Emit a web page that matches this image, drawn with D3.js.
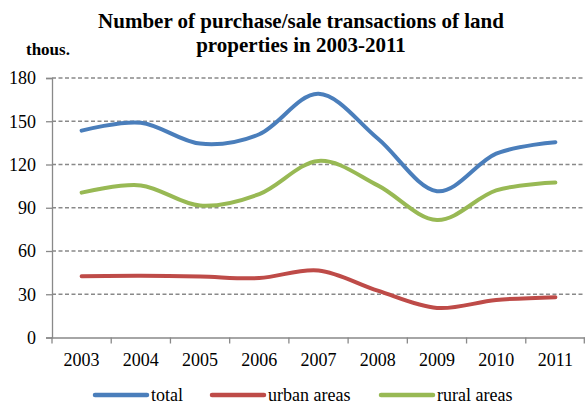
<!DOCTYPE html>
<html><head><meta charset="utf-8">
<script src="https://cdn.jsdelivr.net/npm/d3@7"></script>
<style>body{margin:0;background:#fff}svg{display:block}</style>
</head><body>
<svg id="c" width="585" height="405"></svg>
<script>
const years = ["2003","2004","2005","2006","2007","2008","2009","2010","2011"];
const total = [143.5, 149, 134.5, 141, 169, 138, 101.5, 127.5, 135.5];
const urban = [42.5, 42.8, 42.3, 41.2, 46.5, 32.5, 20.5, 26, 28];
const rural = [100.5, 105.5, 91.5, 99.5, 122.5, 105.5, 81.5, 102, 107.5];
const yTicks = [0, 30, 60, 90, 120, 150, 180];
const seriesNames = ["total", "urban areas", "rural areas"];
const colors = ["#4A7EBB", "#BE4B48", "#98B954"];
const titleLines = ["Number of purchase/sale transactions of land", "properties in 2003-2011"];
const unitLabel = "thous.";

(function () {
const svg = d3.select("#c");
const pL = 52, pR = 585, pT = 78, pB = 337.5;
const x = d3.scaleBand().domain(years).range([pL, pR]);
const y = d3.scaleLinear().domain([0, 180]).range([pB, pT]);
const font = "'Liberation Serif','Times New Roman',serif";
const axisColor = "#898989";

// grid
svg.append("g").selectAll("line").data(yTicks.filter(d => d > 0)).join("line")
  .attr("x1", pL).attr("x2", pR).attr("y1", d => y(d)).attr("y2", d => y(d))
  .attr("stroke", axisColor).attr("stroke-width", 1.3).attr("stroke-dasharray", "4,2.5");

// y axis
const yAxis = svg.append("g").attr("transform", `translate(${pL},0)`)
  .call(d3.axisLeft(y).tickValues(yTicks).tickSize(6).tickPadding(10));
yAxis.select(".domain").attr("stroke", axisColor).attr("stroke-width", 1.3);
yAxis.selectAll(".tick line").attr("stroke", axisColor).attr("stroke-width", 1.3);
yAxis.selectAll(".tick text").attr("font-family", font).attr("font-size", 18).attr("fill", "#000");

// x axis
const xAxis = svg.append("g").attr("transform", `translate(0,${pB})`)
  .call(d3.axisBottom(x).tickSize(0).tickPadding(16));
xAxis.select(".domain").attr("stroke", axisColor).attr("stroke-width", 1.3);
xAxis.selectAll(".tick text").attr("font-family", font).attr("font-size", 18).attr("fill", "#000");
const bounds = years.map(d => x(d)).concat([x(years[years.length-1]) + x.bandwidth()]);
svg.append("g").selectAll("line").data(bounds).join("line")
  .attr("x1", d => Math.min(d, pR - 0.7)).attr("x2", d => Math.min(d, pR - 0.7))
  .attr("y1", pB).attr("y2", pB + 6)
  .attr("stroke", axisColor).attr("stroke-width", 1.3);

// lines
const line = d3.line()
  .x((d, i) => x(years[i]) + x.bandwidth() / 2)
  .y(d => y(d))
  .curve(d3.curveCatmullRom.alpha(0));
[total, urban, rural].forEach((s, k) => {
  svg.append("path").datum(s).attr("d", line)
    .attr("fill", "none").attr("stroke", colors[k]).attr("stroke-width", 4)
    .attr("stroke-linecap", "round").attr("stroke-linejoin", "round");
});

// title
svg.append("text").attr("x", 301).attr("y", 28).attr("text-anchor", "middle")
  .attr("font-family", font).attr("font-weight", "bold").attr("font-size", 21)
  .text(titleLines[0]);
svg.append("text").attr("x", 301).attr("y", 52).attr("text-anchor", "middle")
  .attr("font-family", font).attr("font-weight", "bold").attr("font-size", 21)
  .text(titleLines[1]);
svg.append("text").attr("x", 26).attr("y", 55)
  .attr("font-family", font).attr("font-weight", "bold").attr("font-size", 17)
  .text(unitLabel);

// legend
const legX = [95, 212, 381];
const lg = svg.append("g").selectAll("g").data(seriesNames).join("g")
  .attr("transform", (d, i) => `translate(${legX[i]},395)`);
lg.append("line").attr("x1", 0).attr("x2", 52).attr("y1", 0).attr("y2", 0)
  .attr("stroke", (d, i) => colors[i]).attr("stroke-width", 4.5).attr("stroke-linecap", "round");
lg.append("text").attr("x", 56).attr("y", 5.5)
  .attr("font-family", font).attr("font-size", 18).attr("fill", "#000").text(d => d);
})();
</script>
</body></html>
